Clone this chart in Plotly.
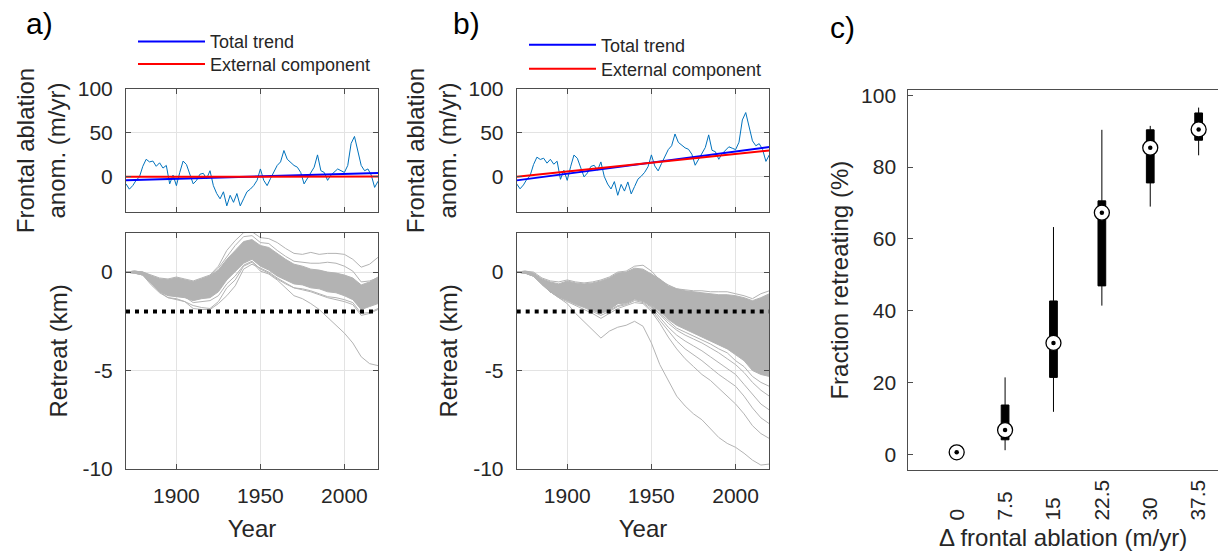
import plotly.graph_objects as go

W, H = 1218, 554

# ---------------- data ----------------
years = list(range(1870, 2021, 2))
abl_a = [-8, -14, -10, -4, 0, 12, 20, 17, 18, 12,
         16, 10, 13, -8, 2, -10, 5, 18, 14, 2,
         -8, -4, 3, 4, -2, 7, -10, -19, -25, -17,
         -33, -21, -29, -19, -33, -25, -17, -14, -10, -4,
         9, -4, -10, -2, 5, 13, 17, 30, 20, 16,
         13, 11, 5, -8, -2, 4, 11, 25, 7, 5,
         -4, 2, 5, 9, 7, 5, 13, 38, 46, 28,
         13, 7, 9, 2, -12, -5]
abl_b = [-8, -13.6, -9.2, -2.8, 1.6, 14, 22.4, 19.8, 21.2, 15.6,
         20, 14.4, 17.8, -2.8, 7.6, -4, 11.4, 24.8, 21.2, 9.6,
         0, 4.4, 11.8, 13.2, 7.6, 17, 0.4, -8.2, -13.8, -5.4,
         -21, -8.6, -16.2, -5.8, -19.4, -11, -2.6, 0.8, 5.2, 11.6,
         25, 12.4, 6.8, 15.2, 22.6, 31, 35.4, 48.8, 39.2, 35.6,
         33, 31.4, 25.8, 13.2, 19.6, 26, 33.4, 47.8, 30.2, 28.6,
         20, 26.4, 29.8, 34.2, 32.6, 31, 39.4, 64.8, 73.2, 55.6,
         41, 35.4, 37.8, 31.2, 17.6, 25]

trend_years = [1870, 2020]
a_total = [-4.0, 4.5]
a_external = [0.0, 0.3]
b_total = [-4.0, 34.0]
b_external = [0.0, 30.0]

ens_years = list(range(1870, 2021, 5))
a_core_hi = [0.0, 0.05, 0.0, -0.2, -0.35, -0.4, -0.3, -0.4, -0.5, -0.35,
             -0.2, 0.1, 0.65, 1.1, 1.55, 1.65, 1.35, 1.25, 0.95, 0.65,
             0.4, 0.3, 0.15, 0.1, 0.0, -0.05, -0.15, -0.3, -0.65, -0.5, -0.25]
a_core_lo = [0.0, -0.05, -0.15, -0.6, -1.0, -1.2, -1.25, -1.3, -1.45, -1.35,
             -1.3, -1.0, -0.4, 0.05, 0.45, 0.65, 0.3, 0.1, -0.2, -0.4,
             -0.6, -0.65, -0.8, -0.85, -1.0, -1.05, -1.2, -1.4, -1.9, -1.75, -1.6]
a_m1 = [0.0, 0.05, 0.0, -0.15, -0.3, -0.35, -0.25, -0.35, -0.45, -0.3,
        -0.15, 0.3, 1.1, 1.6, 2.0, 2.05, 1.75, 1.7, 1.5, 1.2,
        0.95, 0.9, 1.0, 0.9, 0.95, 0.95, 0.9, 0.65, 0.25, 0.4, 0.75]
a_m2 = [0.0, 0.05, 0.0, -0.2, -0.35, -0.4, -0.3, -0.4, -0.5, -0.35,
        -0.2, 0.2, 0.8, 1.35, 1.8, 1.85, 1.5, 1.45, 1.1, 0.8,
        0.55, 0.5, 0.45, 0.45, 0.5, 0.45, 0.3, 0.05, -0.5, -0.45, -0.3]
a_m3 = [0.0, -0.05, -0.15, -0.65, -1.05, -1.3, -1.35, -1.5, -1.7, -1.8,
        -1.85, -1.5, -0.8, -0.4, 0.3, 0.5, 0.05, -0.1, -0.4, -0.8,
        -1.2, -1.35, -1.6, -1.9, -2.3, -2.65, -3.1, -3.6, -4.3, -4.65, -4.75]
a_m4 = [0.0, -0.05, -0.15, -0.55, -1.0, -1.3, -1.4, -1.5, -1.85, -1.9,
        -1.9, -1.6, -1.2, -0.7, 0.15, 0.4, 0.2, 0.0, -0.3, -0.55,
        -0.8, -0.9, -1.0, -1.15, -1.3, -1.4, -1.5, -1.65, -2.2, -2.1, -1.9]
a_m5 = [0.0, -0.05, -0.1, -0.5, -0.9, -1.15, -1.2, -1.25, -1.55, -1.5,
        -1.45, -1.2, -0.6, -0.2, 0.35, 0.55, 0.15, -0.05, -0.35, -0.6,
        -0.8, -0.85, -0.95, -1.1, -1.25, -1.3, -1.4, -1.55, -2.1, -2.05, -1.85]

b_core_hi = [0.0, 0.05, -0.05, -0.35, -0.5, -0.6, -0.45, -0.55, -0.6, -0.55,
             -0.45, -0.3, -0.05, 0.0, 0.2, 0.15, -0.1, -0.35, -0.7, -0.85,
             -0.95, -1.0, -1.05, -1.1, -1.15, -1.15, -1.2, -1.3, -1.45, -1.3, -1.1]
b_core_lo = [0.0, -0.05, -0.2, -0.6, -1.0, -1.25, -1.4, -1.6, -1.75, -1.9,
             -2.05, -1.9, -1.6, -1.55, -1.35, -1.45, -1.7, -2.0, -2.4, -2.7,
             -2.9, -3.1, -3.3, -3.5, -3.7, -3.9, -4.2, -4.5, -5.0, -5.2, -5.3]
b_m1 = [0.0, 0.05, 0.0, -0.3, -0.45, -0.5, -0.4, -0.5, -0.55, -0.5,
        -0.4, -0.25, 0.0, 0.05, 0.3, 0.35, 0.05, -0.4, -0.65, -0.85,
        -0.9, -0.95, -0.95, -1.0, -1.0, -1.0, -1.1, -1.2, -1.35, -1.1, -0.95]
b_e1 = [0.0, -0.05, -0.2, -0.6, -1.0, -1.3, -1.6, -2.1, -2.5, -2.9,
        -3.35, -3.0, -2.8, -2.7, -2.5, -2.75, -3.6, -4.7, -5.5, -6.3,
        -6.8, -7.2, -7.5, -7.95, -8.4, -8.7, -8.9, -9.2, -9.55, -9.8, -9.75]
b_e2 = [0.0, -0.05, -0.2, -0.65, -1.0, -1.3, -1.5, -1.7, -1.9, -2.1,
        -2.35, -2.1, -1.85, -1.7, -1.55, -1.6, -2.0, -2.6, -3.3, -3.9,
        -4.4, -4.8, -5.2, -5.5, -5.9, -6.3, -6.7, -7.2, -7.8, -8.2, -8.45]
b_e3 = [0.0, -0.05, -0.2, -0.6, -1.0, -1.25, -1.45, -1.65, -1.8, -2.0,
        -2.2, -2.0, -1.75, -1.65, -1.45, -1.55, -1.9, -2.45, -3.0, -3.5,
        -3.9, -4.2, -4.5, -4.85, -5.2, -5.5, -5.8, -6.3, -6.9, -7.4, -7.7]
b_e4 = [0.0, -0.05, -0.2, -0.6, -1.0, -1.25, -1.4, -1.6, -1.75, -1.95,
        -2.1, -1.95, -1.7, -1.6, -1.4, -1.5, -1.8, -2.3, -2.8, -3.2,
        -3.5, -3.75, -4.0, -4.3, -4.6, -4.9, -5.2, -5.7, -6.2, -6.7, -7.0]
b_e5 = [0.0, -0.05, -0.2, -0.6, -1.0, -1.25, -1.4, -1.6, -1.75, -1.9,
        -2.05, -1.9, -1.6, -1.55, -1.35, -1.45, -1.75, -2.15, -2.6, -2.95,
        -3.2, -3.4, -3.6, -3.85, -4.1, -4.4, -4.7, -5.1, -5.6, -6.0, -6.3]
b_e6 = [0.0, -0.05, -0.2, -0.6, -1.0, -1.25, -1.4, -1.6, -1.75, -1.9,
        -2.05, -1.9, -1.6, -1.55, -1.35, -1.45, -1.72, -2.1, -2.5, -2.85,
        -3.05, -3.25, -3.45, -3.65, -3.9, -4.1, -4.5, -4.8, -5.3, -5.6, -5.8]

threshold_years = [1870, 2020]
threshold = [-2.0, -2.0]

c_pos = [1, 2, 3, 4, 5, 6]
c_labels = ["0", "7.5", "15", "22.5", "30", "37.5"]
c_lo = [0.5, 1.1, 11.8, 41.4, 69.0, 83.3]
c_q1 = [0.5, 4.0, 21.4, 46.9, 75.6, 87.5]
c_med = [0.5, 6.7, 31.0, 67.3, 85.4, 90.5]
c_q3 = [0.5, 13.7, 42.7, 70.6, 90.4, 95.1]
c_hi = [0.5, 21.4, 63.3, 90.4, 91.5, 96.6]

# ---------------- styling ----------------
FONT = "Liberation Sans, Arial, Helvetica, sans-serif"
TXT = "#262626"
AX = "#4d4d4d"
GRID = "#e3e3e3"
GRAY = "#b3b3b3"


def xd(l, r):
    return [l / W, r / W]


def yd(top, bottom):
    return [1 - bottom / H, 1 - top / H]


fig = go.Figure()


def add_ensemble(xa, ya, hi, lo, members):
    fig.add_trace(go.Scatter(x=ens_years, y=hi, mode="lines", line=dict(color=GRAY, width=1),
                             xaxis=xa, yaxis=ya, showlegend=False, hoverinfo="skip"))
    fig.add_trace(go.Scatter(x=ens_years, y=lo, mode="lines", line=dict(color=GRAY, width=1),
                             fill="tonexty", fillcolor=GRAY,
                             xaxis=xa, yaxis=ya, showlegend=False, hoverinfo="skip"))
    for m in members:
        fig.add_trace(go.Scatter(x=ens_years, y=m, mode="lines", line=dict(color=GRAY, width=1),
                                 xaxis=xa, yaxis=ya, showlegend=False, hoverinfo="skip"))
    fig.add_trace(go.Scatter(x=threshold_years, y=threshold, mode="lines",
                             line=dict(color="black", width=4, dash="4px,5px"),
                             xaxis=xa, yaxis=ya, showlegend=False, hoverinfo="skip"))


add_ensemble("x2", "y2", a_core_hi, a_core_lo, [a_m1, a_m2, a_m3, a_m4, a_m5])
add_ensemble("x4", "y4", b_core_hi, b_core_lo, [b_m1, b_e1, b_e2, b_e3, b_e4, b_e5, b_e6])


def add_top(xa, ya, series, tot, ext, leg_tot, leg_ext):
    fig.add_trace(go.Scatter(x=years, y=series, mode="lines", line=dict(color="#0072BD", width=1),
                             xaxis=xa, yaxis=ya, showlegend=False))
    fig.add_trace(go.Scatter(x=trend_years, y=tot, mode="lines", line=dict(color="#0000FF", width=2),
                             name="Total trend", xaxis=xa, yaxis=ya, legend=leg_tot))
    fig.add_trace(go.Scatter(x=trend_years, y=ext, mode="lines", line=dict(color="#FF0000", width=2),
                             name="External component", xaxis=xa, yaxis=ya, legend=leg_ext))


add_top("x", "y", abl_a, a_total, a_external, "legend", "legend2")
add_top("x3", "y3", abl_b, b_total, b_external, "legend3", "legend4")

fig.add_trace(go.Box(x=c_pos, q1=c_q1, median=c_med, q3=c_q3, lowerfence=c_lo, upperfence=c_hi,
                     fillcolor="black", line=dict(color="black", width=1), width=0.16,
                     whiskerwidth=0, boxpoints=False, showlegend=False, xaxis="x5", yaxis="y5"))
fig.add_trace(go.Scatter(x=c_pos, y=c_med, mode="markers",
                         marker=dict(symbol="circle", size=15, color="white",
                                     line=dict(color="black", width=1.3)),
                         xaxis="x5", yaxis="y5", showlegend=False))
fig.add_trace(go.Scatter(x=c_pos, y=c_med, mode="markers",
                         marker=dict(symbol="circle", size=4.5, color="black"),
                         xaxis="x5", yaxis="y5", showlegend=False))

# ---------------- layout ----------------
tickfont = dict(family=FONT, size=21, color=TXT)
titlefont = dict(family=FONT, size=24, color=TXT)


def ax_common(**kw):
    d = dict(showline=True, linecolor=AX, linewidth=1, mirror="ticks", ticks="inside",
             ticklen=5, tickcolor=AX, showgrid=True, gridcolor=GRID, gridwidth=1,
             zeroline=False, tickfont=tickfont, automargin=False, fixedrange=True,
             ticklabelstandoff=8)
    d.update(kw)
    return d


def leg(xpx, ypx):
    return dict(x=xpx / W, y=1 - ypx / H, xanchor="left", yanchor="middle",
                font=dict(family=FONT, size=18, color=TXT), bgcolor="rgba(0,0,0,0)",
                itemwidth=67, borderwidth=0, traceorder="normal")


year_ticks = [1900, 1950, 2000]
xa_dom, xb_dom, xc_dom = xd(126, 378), xd(516.7, 769.3), xd(908.3, 1218)
top_dom, bot_dom, c_dom = yd(89, 212), yd(232.7, 469), yd(90, 470.3)

top_y = dict(range=[-40, 100], tickvals=[0, 50, 100], ticktext=["0", "50", "100"])
bot_y = dict(range=[-10, 2], tickvals=[-10, -5, 0], ticktext=["-10", "-5", "0"])

fig.update_layout(
    width=W, height=H, template="none",
    margin=dict(l=0, r=0, t=0, b=0),
    paper_bgcolor="white", plot_bgcolor="white",
    font=dict(family=FONT, color=TXT),
    xaxis=ax_common(domain=xa_dom, range=[1870, 2020], tickvals=year_ticks, showticklabels=False, anchor="y"),
    yaxis=ax_common(domain=top_dom, anchor="x", **top_y,
                    title=dict(text="Frontal ablation<br>anom. (m/yr)", font=titlefont, standoff=5)),
    xaxis2=ax_common(domain=xa_dom, range=[1870, 2020], tickvals=year_ticks, anchor="y2",
                     title=dict(text="Year", font=titlefont, standoff=13)),
    yaxis2=ax_common(domain=bot_dom, anchor="x2", **bot_y,
                     title=dict(text="Retreat (km)", font=titlefont, standoff=8)),
    xaxis3=ax_common(domain=xb_dom, range=[1870, 2020], tickvals=year_ticks, showticklabels=False, anchor="y3"),
    yaxis3=ax_common(domain=top_dom, anchor="x3", **top_y,
                     title=dict(text="Frontal ablation<br>anom. (m/yr)", font=titlefont, standoff=5)),
    xaxis4=ax_common(domain=xb_dom, range=[1870, 2020], tickvals=year_ticks, anchor="y4",
                     title=dict(text="Year", font=titlefont, standoff=13)),
    yaxis4=ax_common(domain=bot_dom, anchor="x4", **bot_y,
                     title=dict(text="Retreat (km)", font=titlefont, standoff=8)),
    xaxis5=dict(domain=xc_dom, range=[0, 6.4], anchor="y5", tickvals=c_pos,
                ticktext=[l + pad for l, pad in zip(c_labels, ["\u2007\u2007\u2008", "\u2007", "\u2007\u2008", "", "\u2007\u2008", ""])],
                tickangle=-90, ticks="", showline=True, linecolor=AX, linewidth=1, mirror=True,
                showgrid=False, zeroline=False, tickfont=tickfont, automargin=False, fixedrange=True,
                title=dict(text="\u0394 frontal ablation (m/yr)", font=titlefont, standoff=9)),
    yaxis5=dict(domain=c_dom, range=[-4.5, 101.5], anchor="x5", tickvals=[0, 20, 40, 60, 80, 100],
                ticks="inside", ticklen=5, tickcolor=AX, showline=True, linecolor=AX, linewidth=1,
                mirror=False, showgrid=False, zeroline=False, tickfont=tickfont, automargin=False,
                fixedrange=True, ticklabelstandoff=7,
                title=dict(text="Fraction retreating (%)", font=titlefont, standoff=5)),
    legend=leg(133, 41.7),
    legend2=leg(133, 64.3),
    legend3=leg(524, 45),
    legend4=leg(524, 69),
    annotations=[
        dict(text="a)", x=24 / W, y=1 - 24 / H, xref="paper", yref="paper", xanchor="left",
             yanchor="middle", showarrow=False, font=dict(family=FONT, size=30, color="black")),
        dict(text="b)", x=451 / W, y=1 - 24 / H, xref="paper", yref="paper", xanchor="left",
             yanchor="middle", showarrow=False, font=dict(family=FONT, size=30, color="black")),
        dict(text="c)", x=828 / W, y=1 - 27 / H, xref="paper", yref="paper", xanchor="left",
             yanchor="middle", showarrow=False, font=dict(family=FONT, size=30, color="black")),
    ],
)

fig.write_html("out.html", config={"displayModeBar": False},
               post_script="document.body.style.margin='0px';document.body.style.padding='0px';")
